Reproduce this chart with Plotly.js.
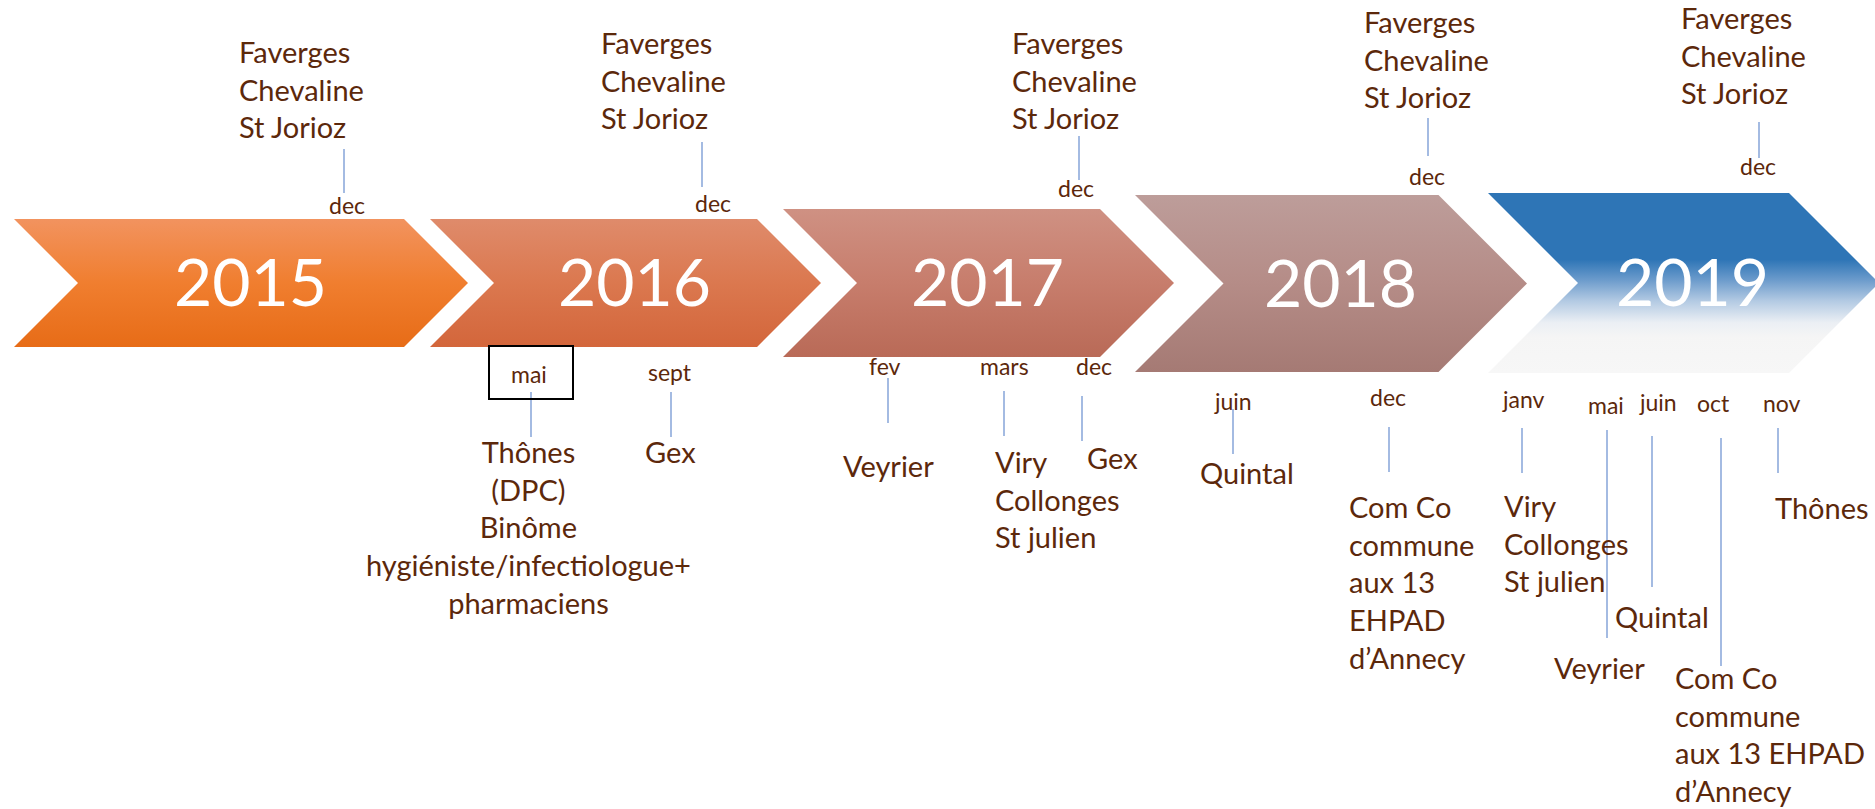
<!DOCTYPE html>
<html>
<head>
<meta charset="utf-8">
<script src="https://cdn.plot.ly/plotly-3.0.1.min.js"></script>
<style>html,body{margin:0;padding:0;background:#fff;}#chart{width:1875px;height:809px;}</style>
</head>
<body>
<div id="chart"></div>
<script>
// ---------------- DATA ----------------
const years = ['2015', '2016', '2017', '2018', '2019'];

const eventYear  = ['2015','2016','2017','2018','2019',
                    '2016','2016','2017','2017','2017','2018','2018',
                    '2019','2019','2019','2019','2019'];
const eventMonth = ['dec','dec','dec','dec','dec',
                    'mai','sept','fev','mars','dec','juin','dec',
                    'janv','mai','juin','oct','nov'];
const eventLabel = [
  'Faverges<br>Chevaline<br>St Jorioz',
  'Faverges<br>Chevaline<br>St Jorioz',
  'Faverges<br>Chevaline<br>St Jorioz',
  'Faverges<br>Chevaline<br>St Jorioz',
  'Faverges<br>Chevaline<br>St Jorioz',
  'Thônes<br>(DPC)<br>Binôme<br>hygiéniste/infectiologue+<br>pharmaciens',
  'Gex',
  'Veyrier',
  'Viry<br>Collonges<br>St julien',
  'Gex',
  'Quintal',
  'Com Co<br>commune<br>aux 13<br>EHPAD<br>d’Annecy',
  'Viry<br>Collonges<br>St julien',
  'Veyrier',
  'Quintal',
  'Com Co<br>commune<br>aux 13 EHPAD<br>d’Annecy',
  'Thônes'
];
const eventSide = ['above','above','above','above','above',
                   'below','below','below','below','below','below','below',
                   'below','below','below','below','below'];
const highlightedMonth = ['2016 mai'];

// ---------------- LAYOUT / STYLE (positions on the canvas, not data) ----------------
const W = 1875, H = 809;
const chevLeft   = [14, 430, 783, 1135, 1488];
const chevTop    = [219, 219, 209, 195, 193];
const chevBottom = [347, 347, 357, 372, 373];
const chevWidth  = [454, 391, 391, 392, 391];
const chevScales = [
  [[0,'#F2935F'],[0.5,'#F07E2F'],[1,'#E76C17']],
  [[0,'#DF8B6B'],[0.5,'#DB784F'],[1,'#D3663B']],
  [[0,'#CF9183'],[0.5,'#C77D6C'],[1,'#B96A57']],
  [[0,'#BD9D9A'],[0.5,'#B58C87'],[1,'#A57A74']],
  [[0,'#2E75B6'],[0.37,'#2E75B6'],[0.48,'#6A9ACB'],[0.6,'#B3CAE3'],[0.72,'#EBEFF4'],[0.8,'#F5F5F5'],[1,'#F7F7F7']]
];
const yearLabelDx = 9;

// per event: month label centre x, month baseline, connector x, connector y0..y1,
// label x, label first baseline, label alignment
const monthX   = [347, 713, 1076, 1427, 1758, 529, 670, 885, 1004, 1094, 1233, 1388, 1523, 1606, 1658, 1713, 1782];
const monthB   = [213, 211, 196, 184, 174, 382, 380, 374, 374, 374, 409, 405, 407, 413, 410, 411, 411];
const connX    = [344, 702, 1079, 1428, 1759, 531, 671, 888, 1004, 1082, 1233, 1389, 1522, 1607, 1652, 1721, 1778];
const connY0   = [149, 142, 136, 118, 122, 392, 392, 378, 391, 396, 409, 427, 428, 430, 436, 438, 428];
const connY1   = [193, 187, 180, 156, 158, 437, 437, 423, 436, 441, 454, 472, 473, 638, 587, 666, 473];
const labelX   = [237, 599, 1010, 1362, 1679, 528, 670, 888, 993, 1085, 1247, 1347, 1502, 1552, 1613, 1673, 1773];
const labelB   = [62, 53, 53, 32, 28, 462, 462, 476, 472, 468, 483, 517, 516, 678, 627, 688, 518];
const labelAl  = ['left','left','left','left','left','center','center','center','left','left','center','left','left','left','left','left','left'];
const boxRect  = {x0: 489, x1: 573, y0: 346, y1: 399};

const FONT = 'Lato, "Open Sans", sans-serif';
const TEXT_COLOR = '#5C280B';
const LINE_COLOR = '#86A4D9';
const LABEL_SIZE = 29, MONTH_SIZE = 23, YEAR_SIZE = 66;
const ASC = 0.99; // ascent ratio used to place text by baseline

function topFromBaseline(b, size) { return b - size * ASC - 1; }
function px(x) { return x / W; }
function py(y) { return 1 - y / H; }

// ---------------- TRACES ----------------
const traces = [];
years.forEach((yr, i) => {
  const L = chevLeft[i], T = chevTop[i], B = chevBottom[i], Wd = chevWidth[i];
  const D = (B - T) / 2, M = (T + B) / 2;
  traces.push({
    type: 'scatter', mode: 'lines', hoverinfo: 'skip', showlegend: false,
    x: [L, L + Wd - D, L + Wd, L + Wd - D, L, L + D, L],
    y: [T, T, M, B, B, M, T],
    line: {width: 0, color: 'rgba(0,0,0,0)'},
    fill: 'toself',
    fillgradient: {type: 'vertical', colorscale: chevScales[i], start: T, stop: B}
  });
});

// connectors
const cx = [], cy = [];
eventYear.forEach((y, i) => {
  cx.push(connX[i], connX[i], null);
  cy.push(connY0[i], connY1[i], null);
});
traces.push({type: 'scatter', mode: 'lines', x: cx, y: cy, hoverinfo: 'skip', showlegend: false,
  line: {color: LINE_COLOR, width: 1.5}});

// ---------------- ANNOTATIONS ----------------
const annotations = [];
years.forEach((yr, i) => {
  annotations.push({
    x: px(chevLeft[i] + chevWidth[i] / 2 + yearLabelDx), y: py((chevTop[i] + chevBottom[i]) / 2 - 2),
    xref: 'paper', yref: 'paper', text: yr, showarrow: false, xanchor: 'center', yanchor: 'middle',
    font: {family: FONT, size: YEAR_SIZE, color: '#FFFFFF'}
  });
});
eventYear.forEach((yr, i) => {
  annotations.push({
    x: px(monthX[i]), y: py(topFromBaseline(monthB[i], MONTH_SIZE)), xref: 'paper', yref: 'paper',
    text: eventMonth[i], showarrow: false, xanchor: 'center', yanchor: 'top',
    font: {family: FONT, size: MONTH_SIZE, color: TEXT_COLOR}
  });
  annotations.push({
    x: px(labelX[i]), y: py(topFromBaseline(labelB[i], LABEL_SIZE)), xref: 'paper', yref: 'paper',
    text: eventLabel[i], showarrow: false, xanchor: labelAl[i], yanchor: 'top', align: labelAl[i],
    font: {family: FONT, size: LABEL_SIZE, color: TEXT_COLOR}
  });
});

const shapes = [];
eventYear.forEach((yr, i) => {
  if (highlightedMonth.indexOf(yr + ' ' + eventMonth[i]) >= 0) {
    shapes.push({type: 'rect', xref: 'x', yref: 'y', x0: boxRect.x0, x1: boxRect.x1, y0: boxRect.y0, y1: boxRect.y1,
      line: {color: '#000000', width: 2}, fillcolor: 'rgba(0,0,0,0)'});
  }
});

const layout = {
  width: W, height: H,
  margin: {l: 0, r: 0, t: 0, b: 0, pad: 0},
  paper_bgcolor: '#FFFFFF', plot_bgcolor: '#FFFFFF',
  xaxis: {range: [0, W], visible: false, fixedrange: true},
  yaxis: {range: [H, 0], visible: false, fixedrange: true},
  showlegend: false,
  annotations: annotations,
  shapes: shapes
};

Plotly.newPlot('chart', traces, layout, {displayModeBar: false, staticPlot: true});
</script>
</body>
</html>
